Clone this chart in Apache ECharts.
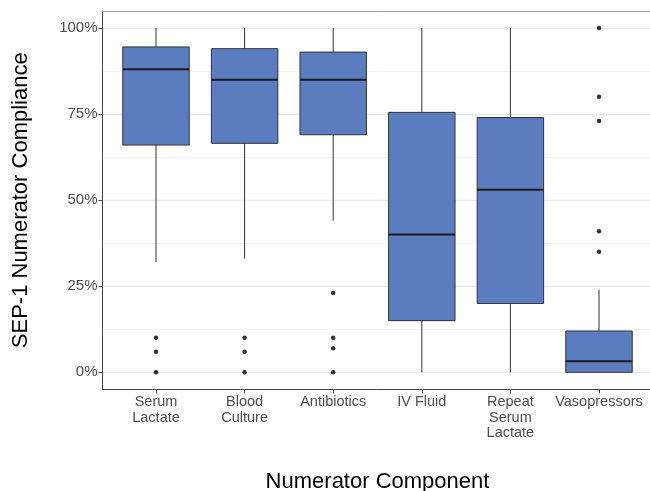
<!DOCTYPE html>
<html>
<head>
<meta charset="utf-8">
<script src="https://cdn.jsdelivr.net/npm/echarts@6/dist/echarts.min.js"></script>
<style>html,body{margin:0;padding:0;background:#fff}#c{width:650px;height:491px}</style>
</head>
<body>
<div id="c"></div>
<script>
// ---- data ----
var categories = ['Serum\nLactate', 'Blood\nCulture', 'Antibiotics', 'IV Fluid', 'Repeat\nSerum\nLactate', 'Vasopressors'];
var whiskerLow  = [32, 33, 44, 0, 0, 0];
var q1Values    = [66, 66.5, 69, 15, 20, 0];
var medianVals  = [88, 85, 85, 40, 53, 3.2];
var q3Values    = [94.5, 94, 93, 75.5, 74, 12];
var whiskerHigh = [100, 100, 100, 100, 100, 24];
var outliers = [
  [10, 6, 0],
  [10, 6, 0],
  [23, 10, 7, 0],
  [],
  [],
  [100, 80, 73, 41, 35]
];
var yTicks = [0, 25, 50, 75, 100];

// ---- build series data ----
var boxData = categories.map(function (c, i) {
  return [i, whiskerLow[i], q1Values[i], medianVals[i], q3Values[i], whiskerHigh[i]];
});
var outlierData = [];
outliers.forEach(function (arr, i) { arr.forEach(function (v) { outlierData.push([i, v]); }); });

var FONT = "'Liberation Sans', Arial, sans-serif";
var chart = echarts.init(document.getElementById('c'), null, { renderer: 'canvas' });

chart.setOption({
  animation: false,
  backgroundColor: '#ffffff',
  textStyle: { fontFamily: FONT },
  grid: [
    { left: 102.5, top: 11, width: 550, height: 378.5, containLabel: false, outerBoundsMode: 'none' },   // frame (panel)
    { left: 102.5, top: 28, width: 550, height: 344.3, containLabel: false, outerBoundsMode: 'none' },   // y scale + gridlines
    { left: 111.7, top: 28, width: 531.6, height: 344.3, containLabel: false, outerBoundsMode: 'none' }, // data
    { left: 111.7, top: 11, width: 531.6, height: 378.5, containLabel: false, outerBoundsMode: 'none' }  // category ticks/labels
  ],
  xAxis: [
    { gridIndex: 0, type: 'value', min: 0, max: 1, position: 'bottom',
      axisLine: { show: true, onZero: false, lineStyle: { color: '#444', width: 1 } },
      axisTick: { show: false }, axisLabel: { show: false }, splitLine: { show: false },
      name: 'Numerator Component', nameLocation: 'middle', nameGap: 81,
      nameTextStyle: { fontSize: 22, color: '#000', fontFamily: FONT } },
    { gridIndex: 0, type: 'value', min: 0, max: 1, position: 'top',
      axisLine: { show: true, onZero: false, lineStyle: { color: '#9a9a9a', width: 1 } },
      axisTick: { show: false }, axisLabel: { show: false }, splitLine: { show: false } },
    { gridIndex: 1, type: 'value', min: 0, max: 1, show: false },
    { gridIndex: 2, type: 'category', data: categories, boundaryGap: true, show: false },
    { gridIndex: 3, type: 'category', data: categories, boundaryGap: true,
      axisLine: { show: false },
      axisTick: { show: true, alignWithLabel: true, length: 4, lineStyle: { color: '#444' } },
      axisLabel: { show: true, interval: 0, fontSize: 14.5, lineHeight: 15.5, color: '#4D4D4D', margin: 5, fontFamily: FONT },
      splitLine: { show: false } }
  ],
  yAxis: [
    { gridIndex: 0, type: 'value', min: 0, max: 1,
      axisLine: { show: true, onZero: false, lineStyle: { color: '#444', width: 1 } },
      axisTick: { show: false }, axisLabel: { show: false }, splitLine: { show: false },
      name: 'SEP-1 Numerator Compliance', nameLocation: 'middle', nameGap: 71,
      nameTextStyle: { fontSize: 22, color: '#000', fontFamily: FONT } },
    { gridIndex: 1, type: 'value', min: yTicks[0], max: yTicks[yTicks.length - 1], interval: 25,
      axisLine: { show: false },
      axisTick: { show: true, length: 4, lineStyle: { color: '#444' } },
      axisLabel: { show: true, fontSize: 15, color: '#4D4D4D', margin: 5, fontFamily: FONT,
        formatter: function (v) { return v + '%'; } },
      splitLine: { show: true, lineStyle: { color: '#EBEBEB', width: 1.3 } },
      minorTick: { show: false, splitNumber: 2 },
      minorSplitLine: { show: true, lineStyle: { color: '#F3F3F3', width: 1 } } },
    { gridIndex: 2, type: 'value', min: 0, max: 100, show: false },
    { gridIndex: 3, type: 'value', min: 0, max: 1, show: false }
  ],
  series: [
    {
      type: 'custom',
      xAxisIndex: 3, yAxisIndex: 2,
      clip: false,
      encode: { x: 0, y: [1, 2, 3, 4, 5] },
      data: boxData,
      renderItem: function (params, api) {
        var x = api.value(0);
        var lo = api.coord([x, api.value(1)]);
        var q1 = api.coord([x, api.value(2)]);
        var md = api.coord([x, api.value(3)]);
        var q3 = api.coord([x, api.value(4)]);
        var hi = api.coord([x, api.value(5)]);
        var bw = api.size([1, 0])[0] * 0.75;
        var cx = lo[0];
        return {
          type: 'group',
          children: [
            { type: 'line', shape: { x1: cx, y1: hi[1], x2: cx, y2: q3[1] }, style: { stroke: '#333', lineWidth: 1 } },
            { type: 'line', shape: { x1: cx, y1: q1[1], x2: cx, y2: lo[1] }, style: { stroke: '#333', lineWidth: 1 } },
            { type: 'rect', shape: { x: cx - bw / 2, y: q3[1], width: bw, height: q1[1] - q3[1] },
              style: { fill: '#5B7DBF', stroke: '#333', lineWidth: 1 } },
            { type: 'line', shape: { x1: cx - bw / 2, y1: md[1], x2: cx + bw / 2, y2: md[1] },
              style: { stroke: '#1A1A1A', lineWidth: 2 } }
          ]
        };
      }
    },
    {
      type: 'scatter',
      xAxisIndex: 3, yAxisIndex: 2,
      clip: false,
      symbol: 'circle', symbolSize: 4.5,
      itemStyle: { color: '#000' },
      data: outlierData,
      z: 5
    }
  ]
});
</script>
</body>
</html>
